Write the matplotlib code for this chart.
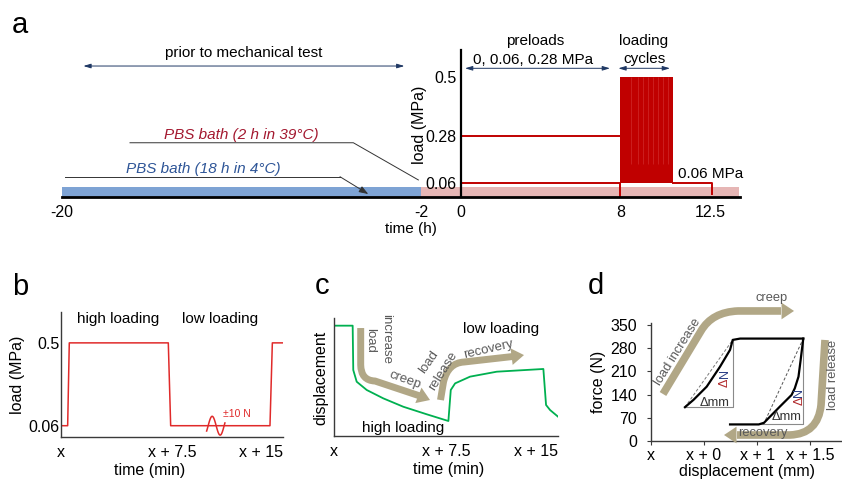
import numpy as np
import matplotlib.pyplot as plt
from matplotlib.path import Path
from matplotlib.patches import PathPatch

plt.rcParams['font.family'] = ['Liberation Sans', 'DejaVu Sans']
plt.rcParams['font.size'] = 11

# ---------------- data ----------------
# (a) test protocol: time in h, load in MPa
a_time_ticks = [-20, -2, 0, 8, 12.5]
a_time_labels = ['-20', '-2', '0', '8', '12.5']
a_load_ticks = [0.06, 0.28, 0.5]
a_load_labels = ['0.06', '0.28', '0.5']
cold_bath = [-20, -2]        # PBS 18 h in 4 °C
warm_bath = [-2, 13.95]      # PBS 2 h in 39 °C, kept during the test
pre_high_t = [0, 8]
pre_high = [0.28, 0.28]
pre_low_t = [0, 8, 8]
pre_low = [0.06, 0.06, 0.0]
cycles_span = [8, 10.66]
cycles_low, cycles_high = 0.06, 0.5
cycle_edges = [8.55, 8.9, 9.15, 9.4, 9.65, 9.9, 10.15, 10.4]
hold_t = [10.66, 12.6, 12.6]
hold = [0.06, 0.06, 0.015]

# (b) load steps, time in min
b_time = [0, 0.45, 0.56, 7.25, 7.41, 14.12, 14.28, 15]
b_load = [0.06, 0.06, 0.5, 0.5, 0.06, 0.06, 0.5, 0.5]
step_ticks = [0, 7.5, 15]
step_labels = ['x', 'x + 7.5', 'x + 15']

# (c) displacement response (arbitrary units)
c_time = [0, 1.25, 1.29, 1.52, 2.19, 3.30, 4.64, 6.21, 7.66, 7.82, 8.11,
          9.11, 10.90, 14.02, 14.20, 14.47, 15.0]
c_disp = [0.935, 0.935, 0.559, 0.460, 0.390, 0.319, 0.248, 0.184, 0.127,
          0.390, 0.446, 0.503, 0.545, 0.568, 0.263, 0.220, 0.164]

# (d) force-displacement loop
d_force_ticks = [0, 70, 140, 210, 280, 350]
d_disp_ticks = [0, 1, 2, 3]
d_disp_labels = ['x', 'x + 0', 'x + 1', 'x + 1.5']
load_disp = [0.64, 0.80, 1.05, 1.30, 1.49, 1.54, 1.68, 2.87]
load_force = [102, 124, 164, 224, 275, 305, 309, 309]
unload_disp = [2.87, 2.82, 2.78, 2.71, 2.65, 2.43, 2.24, 2.13, 2.03, 1.49]
unload_force = [309, 244, 194, 159, 139, 104, 73, 55, 50, 50]
tri1_disp, tri1_force = [0.64, 1.54, 1.54], [102, 102, 305]
tri2_disp, tri2_force = [2.03, 2.87, 2.87], [50, 50, 309]
sec1_disp, sec1_force = [0.64, 1.54], [102, 305]
sec2_disp, sec2_force = [2.12, 2.87], [50, 309]

RED = '#c00000'
PINK = '#e6b6b5'
BLUE = '#7ea3d4'
NAVY = '#1f3864'
BRED = '#e02a2a'
GREEN = '#00b050'
TAN = '#b1a786'
GRAY = '#595959'
SPINE = '#3a3a3a'

W, H = 842, 479
fig = plt.figure(figsize=(W / 100, H / 100), dpi=100)


def box(l, t, r, b):
    return [l / W, 1 - b / H, (r - l) / W, (b - t) / H]


def tan_arrow(ax, pts, tip, lw=5.0):
    codes = [Path.MOVETO, Path.LINETO, Path.CURVE3, Path.CURVE3, Path.LINETO]
    ax.add_patch(PathPatch(Path(pts, codes), fill=False, ec=TAN, lw=lw,
                           capstyle='butt', joinstyle='round', clip_on=False))
    ax.annotate('', xy=tip, xytext=pts[-1], annotation_clip=False,
                arrowprops=dict(arrowstyle='-|>,head_length=9,head_width=6',
                                mutation_scale=1, lw=0, fc=TAN, ec=TAN,
                                shrinkA=0, shrinkB=0))


ax_a = fig.add_axes(box(62, 50, 740, 197))
ax_b = fig.add_axes(box(61, 312, 283, 437))
ax_c = fig.add_axes(box(334, 318, 558, 436))
ax_d = fig.add_axes(box(651, 323, 842, 441))

# ---------------- (a) ----------------
ax = ax_a
sched = [0, 0.06, 0.28, 0.5, 1.0]
sched_pos = [0, 0.0583, 0.254, 0.5, 1.0]
ax.set_yscale('function', functions=(lambda v: np.interp(v, sched, sched_pos),
                                     lambda p: np.interp(p, sched_pos, sched)))
ax.set_xlim(-20, 14)
ax.set_ylim(0, 0.6125)
ax.fill_between(cold_bath, 0, 0.042, color=BLUE, lw=0)
ax.fill_between(warm_bath, 0, 0.042, color=PINK, lw=0)
ax.plot(pre_high_t, pre_high, color=RED, lw=1.4)
ax.plot(pre_low_t, pre_low, color=RED, lw=1.4)
ax.fill_between(cycles_span, cycles_low, cycles_high, color=RED, lw=0)
ax.vlines(cycle_edges, 0.15, cycles_high, color='#d02a2a', lw=0.5)
ax.plot(hold_t, hold, color=RED, lw=1.4)

for s in ['top', 'right']:
    ax.spines[s].set_visible(False)
ax.spines['left'].set_position(('data', 0))
ax.spines['left'].set_linewidth(1.6)
ax.spines['bottom'].set_linewidth(2.0)
ax.set_xticks(a_time_ticks, a_time_labels)
ax.set_yticks(a_load_ticks, a_load_labels)
ax.minorticks_off()
ax.tick_params(axis='x', length=0, pad=6, labelsize=11.5)
ax.tick_params(axis='y', length=0, pad=3, labelsize=11.5)
ax.set_ylabel('load (MPa)', fontsize=11.5, va='center')
ax.yaxis.set_label_coords(0.528, 0.49)
ax.set_xlabel('time (h)', fontsize=11, va='center')
ax.xaxis.set_label_coords(0.515, -0.218)

tx = ax.get_xaxis_transform()
dbl = dict(arrowstyle='<|-|>,head_length=0.4,head_width=0.12', color=NAVY,
           lw=0.7, shrinkA=0, shrinkB=0)
ax.text(-10.91, 0.978, 'prior to mechanical test', transform=tx,
        ha='center', va='center')
ax.annotate('', xy=(-2.83, 0.891), xytext=(-18.93, 0.891), xycoords=tx,
            arrowprops=dbl, annotation_clip=False)
ax.plot([-16.59, -5.39, -2.13], [0.369, 0.369, 0.116], transform=tx,
        color='#333333', lw=0.7, clip_on=False)
ax.text(-10.99, 0.422, 'PBS bath (2 h in 39°C)', transform=tx, ha='center',
        va='center', style='italic', color='#a3182f')
ax.plot([-19.85, -6.06], [0.138, 0.138], transform=tx, color='#333333',
        lw=0.7, clip_on=False)
ax.annotate('', xy=(-4.64, 0.02), xytext=(-6.06, 0.138), xycoords=tx,
            arrowprops=dict(arrowstyle='-|>,head_length=0.5,head_width=0.18',
                            color='#333333', lw=0.7, shrinkA=0, shrinkB=0))
ax.text(-12.91, 0.188, 'PBS bath (18 h in 4°C)', transform=tx, ha='center',
        va='center', style='italic', color='#2e5597')
ax.text(3.72, 1.063, 'preloads', transform=tx, ha='center', va='center')
ax.text(3.64, 0.932, '0, 0.06, 0.28 MPa', transform=tx, ha='center', va='center')
ax.annotate('', xy=(7.48, 0.8755), xytext=(0.21, 0.8755), xycoords=tx,
            arrowprops=dbl, annotation_clip=False)
ax.text(9.15, 1.063, 'loading', transform=tx, ha='center', va='center')
ax.text(9.2, 0.936, 'cycles', transform=tx, ha='center', va='center')
ax.annotate('', xy=(10.49, 0.8755), xytext=(7.9, 0.8755), xycoords=tx,
            arrowprops=dbl, annotation_clip=False)
ax.text(10.91, 0.157, '0.06 MPa', transform=tx, ha='left', va='center')

# ---------------- (b) ----------------
ax = ax_b
ax.plot(b_time, b_load, color=BRED, lw=1.1)
squig = np.linspace(-0.6, 6.58, 60)
ax.plot(9.84 + 0.172 * (squig + 0.6), 0.06 + 0.05 * np.sin(squig),
        color=BRED, lw=1.1)
ax.text(10.95, 0.122, '±10 N', color=BRED, fontsize=7.5, ha='left', va='center')
ax.text(3.87, 0.626, 'high loading', ha='center', va='center')
ax.text(10.74, 0.626, 'low loading', ha='center', va='center')
ax.set_xlim(0, 15)
ax.set_ylim(0, 0.664)
ax.set_xticks(step_ticks, step_labels)
ax.set_yticks([0.06, 0.5], ['0.06', '0.5'])
ax.get_xticklabels()[-1].set_ha('right')
ax.tick_params(axis='x', length=0, pad=6, labelsize=11.5)
ax.tick_params(axis='y', length=0, pad=1, labelsize=11.5)
ax.set_ylabel('load (MPa)', fontsize=11.5, va='center')
ax.yaxis.set_label_coords(-0.194, 0.496)
ax.set_xlabel('time (min)', fontsize=11.5, va='center')
ax.xaxis.set_label_coords(0.401, -0.264)

# ---------------- (c) ----------------
ax = ax_c
ax.plot(c_time, c_disp, color=GREEN, lw=1.3)
ax.set_xlim(0, 15)
ax.set_ylim(0, 1)
tan_arrow(ax, [(1.788, 0.915), (1.788, 0.602), (1.808, 0.47), (2.746, 0.466),
               (5.759, 0.339)], (6.429, 0.305))
tan_arrow(ax, [(7.132, 0.305), (7.333, 0.458), (7.634, 0.62), (8.706, 0.627),
               (11.987, 0.674)], (12.723, 0.686))
lab = dict(color=GRAY, fontsize=9.5, ha='center', va='center',
           rotation_mode='anchor')
ax.text(2.41, 0.814, 'load', rotation=-90, **lab)
ax.text(3.48, 0.822, 'increase', rotation=-90, **lab)
ax.text(4.75, 0.475, 'creep', rotation=-20, **lab)
ax.text(6.36, 0.627, 'load', rotation=55, **lab)
ax.text(7.32, 0.553, 'release', rotation=58, **lab)
ax.text(10.33, 0.737, 'recovery', rotation=13, **lab)
ax.text(11.16, 0.904, 'low loading', ha='center', va='center')
ax.text(4.64, 0.065, 'high loading', ha='center', va='center')
ax.set_xticks(step_ticks, step_labels)
ax.set_yticks([])
ax.get_xticklabels()[-1].set_ha('right')
ax.tick_params(axis='x', length=0, pad=6, labelsize=11.5)
ax.set_ylabel('displacement', fontsize=11.5, va='center')
ax.yaxis.set_label_coords(-0.058, 0.492)
ax.set_xlabel('time (min)', fontsize=11.5, va='center')
ax.xaxis.set_label_coords(0.513, -0.288)

# ---------------- (d) ----------------
ax = ax_d
ax.plot(tri1_disp, tri1_force, color='#8a8a8a', lw=0.8)
ax.plot(tri2_disp, tri2_force, color='#8a8a8a', lw=0.8)
ax.plot(sec1_disp, sec1_force, color='#777777', lw=0.7, ls=(0, (3, 2)))
ax.plot(sec2_disp, sec2_force, color='#555555', lw=0.7, ls=(0, (3, 2)))
ax.plot(load_disp, load_force, color='k', lw=1.6)
ax.plot(unload_disp, unload_force, color='k', lw=1.6)
ax.set_xlim(0, 3.6)
ax.set_ylim(0, 356)
tan_arrow(ax, [(0.226, 141.8), (0.942, 331.9), (1.15, 389.3), (1.64, 392.3),
               (2.45, 392.3)], (2.696, 392.3), lw=5.5)
tan_arrow(ax, [(3.28, 304.8), (3.205, 108.6), (3.148, 21.1), (2.62, 18.1),
               (1.621, 18.1)], (1.376, 18.1), lw=5.5)
lab = dict(color=GRAY, fontsize=9.3, ha='center', va='center',
           rotation_mode='anchor')
ax.text(2.275, 430.6, 'creep', clip_on=False, **lab)
ax.text(0.50, 268.6, 'load increase', rotation=58, **lab)
ax.text(3.43, 199.2, 'load release', rotation=90, clip_on=False, **lab)
ax.text(2.117, 25, 'recovery', **lab)
dl = dict(fontsize=9, ha='center', va='center', rotation=90,
          rotation_mode='anchor', textcoords='offset points')
for u, f in [(1.395, 189.2), (2.795, 133.7)]:
    ax.annotate('Δ', xy=(u, f), xytext=(0, -3.2), color='#b0282a', **dl)
    ax.annotate('N', xy=(u, f), xytext=(0, 3.3), color='#2b3f86', **dl)
ax.text(1.206, 113.8, 'Δmm', fontsize=9.3, ha='center', va='center', color='#333333')
ax.text(2.558, 71.5, 'Δmm', fontsize=9.3, ha='center', va='center', color='#333333')
ax.set_xticks(d_disp_ticks, d_disp_labels)
ax.set_yticks(d_force_ticks)
ax.tick_params(axis='x', length=3, width=0.8, pad=2, labelsize=11.5, color=SPINE)
ax.tick_params(axis='y', length=3, width=0.8, pad=7, labelsize=11.5, color=SPINE)
ax.set_ylabel('force (N)', fontsize=11.5, va='center')
ax.yaxis.set_label_coords(-0.277, 0.5)
ax.set_xlabel('displacement (mm)', fontsize=11.5, va='center')
ax.xaxis.set_label_coords(0.501, -0.26)

for ax in (ax_b, ax_c, ax_d):
    for s in ['top', 'right']:
        ax.spines[s].set_visible(False)
    for s in ['left', 'bottom']:
        ax.spines[s].set_color(SPINE)
        ax.spines[s].set_linewidth(1.0)

for txt, x, y in [('a', 12, 33), ('b', 12, 295), ('c', 315, 294), ('d', 588, 294)]:
    fig.text(x / W, 1 - y / H, txt, fontsize=21, ha='left', va='baseline')

fig.savefig('out.png', dpi=100)
